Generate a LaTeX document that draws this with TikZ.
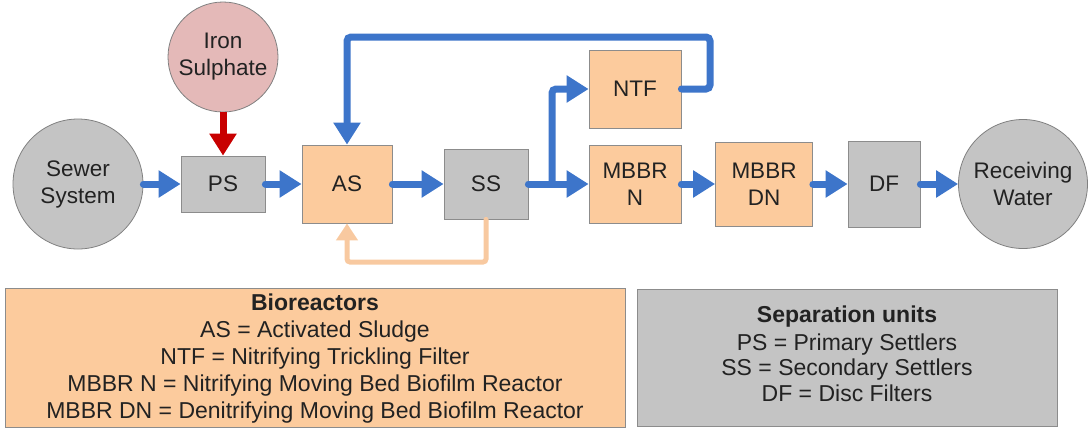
\documentclass[tikz,border=0pt]{standalone}
\usepackage{fontspec}
\setmainfont{Liberation Sans}
\usetikzlibrary{arrows.meta}
\definecolor{flowblue}{HTML}{3D75CA}
\definecolor{ironred}{HTML}{C80000}
\definecolor{bioor}{HTML}{FCCB9D}
\definecolor{sepgray}{HTML}{C4C4C4}
\definecolor{ironpink}{HTML}{E4B9B8}
\definecolor{retor}{HTML}{F8C9A0}
\definecolor{txt}{HTML}{222222}
\tikzset{
  base/.style={inner sep=0pt, text=txt, align=center, font=\fontsize{22.5}{27}\selectfont},
  bio/.style={base, rectangle, fill=bioor, draw=black!45, line width=0.8pt},
  sep/.style={base, rectangle, fill=sepgray, draw=black!45, line width=0.8pt},
  endpt/.style={base, circle, fill=sepgray, draw=black!50, line width=0.8pt},
  flow/.style={draw=flowblue, line width=7pt, line cap=round, -{Triangle[length=22pt,width=26pt]}},
  dose/.style={draw=ironred, line width=7pt, -{Triangle[length=22pt,width=26pt]}},
  ret/.style={draw=retor, line width=5pt, line cap=round, -{Triangle[length=17pt,width=21pt]}},
  legtxt/.style={inner sep=0pt, text=txt, align=center, font=\fontsize{23}{27}\selectfont},
}
\begin{document}
\begin{tikzpicture}[x=1pt,y=-1pt]
\useasboundingbox (0,0) rectangle (1089,429);
% nodes
\node[endpt, minimum size=130pt] (sewer) at (78,184) {Sewer\\System};
\node[endpt, fill=ironpink, minimum size=110pt] (iron) at (223,57) {Iron\\Sulphate};
\node[sep, minimum width=84pt, minimum height=56pt] (ps) at (223,184) {PS};
\node[bio, minimum width=90pt, minimum height=78pt] (as) at (347,184) {AS};
\node[sep, minimum width=84pt, minimum height=70pt] (ss) at (486,184) {SS};
\node[bio, minimum width=92pt, minimum height=78pt] (ntf) at (635,89) {NTF};
\node[bio, minimum width=92pt, minimum height=78pt] (mbbrn) at (635,184) {MBBR\\N};
\node[bio, minimum width=97pt, minimum height=84pt] (mbbrdn) at (764,184) {MBBR\\DN};
\node[sep, minimum width=72pt, minimum height=86pt] (df) at (884,184) {DF};
\node[endpt, minimum size=129pt] (recv) at (1023,184) {Receiving\\Water};
% helper coordinates
\coordinate (split) at (552,184);
\coordinate (loopR) at (710,37);
\coordinate (loopL) at (347,37);
\coordinate (retc) at (486,262);
% connectors
\draw[flow] (sewer.east) -- (ps.west);
\draw[dose] (iron.south) -- (ps.north);
\draw[flow] (ps.east) -- (as.west);
\draw[flow] (as.east) -- (ss.west);
\draw[flow] (ss.east) -- (mbbrn.west);
\draw[flow, rounded corners=4pt] (split) |- (ntf.west);
\draw[flow, rounded corners=4pt] (ntf.east) -| (loopR) -- (loopL) -- (as.north);
\draw[flow] (mbbrn.east) -- (mbbrdn.west);
\draw[flow] (mbbrdn.east) -- (df.west);
\draw[flow] (df.east) -- (recv.west);
\draw[ret, rounded corners=3pt] (ss.south) -- (retc) -| (as.south);
% legends
\node[bio, minimum width=620pt, minimum height=139pt] (legbio) at (315,357.5) {};
\node[legtxt] (legbiotext) at ([yshift=-1pt]legbio.center) {\textbf{Bioreactors}\\AS = Activated Sludge\\NTF = Nitrifying Trickling Filter\\MBBR N = Nitrifying Moving Bed Biofilm Reactor\\MBBR DN = Denitrifying Moving Bed Biofilm Reactor};
\node[sep, minimum width=420pt, minimum height=137pt] (legsep) at (847,357.5) {};
\node[legtxt, font=\fontsize{23}{25.5}\selectfont] (legseptext) at ([yshift=3.5pt]legsep.center) {\textbf{Separation units}\\[2pt]PS = Primary Settlers\\SS = Secondary Settlers\\DF = Disc Filters};
\end{tikzpicture}
\end{document}
